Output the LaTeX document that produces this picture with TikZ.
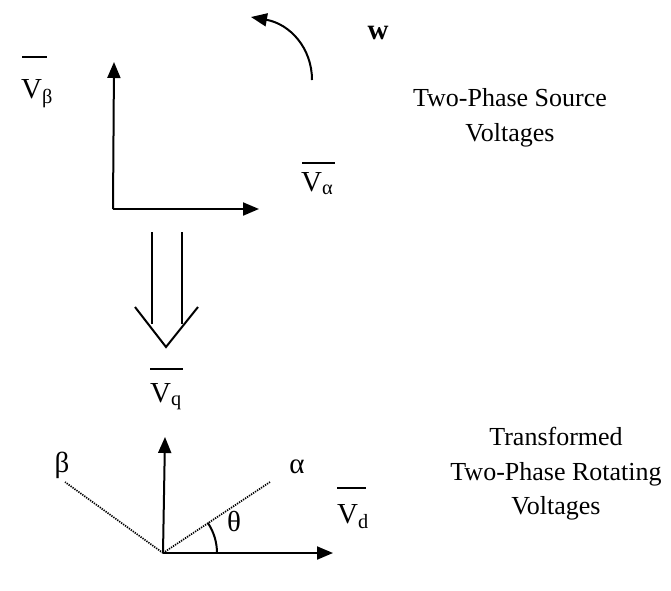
\documentclass[tikz,border=0pt]{standalone}
\usepackage{fontspec}
\setmainfont{Liberation Serif}
\usetikzlibrary{arrows.meta}
\newcommand\Vsub[1]{V\textsubscript{#1}}
\begin{document}
\begin{tikzpicture}[x=1pt,y=-1pt,
  axis/.style={line width=2pt,-{Triangle[length=16pt,width=13pt]}},
  dotline/.style={line width=1.7pt,dash pattern=on 1.3pt off 1.1pt},
  lbl/.style={inner sep=0pt,font=\fontsize{29}{32}\selectfont},
  big/.style={inner sep=0pt,align=center,font=\fontsize{26}{34.5}\selectfont},
  bar/.style={line width=1.6pt}]
\useasboundingbox (0,0) rectangle (671,590);
% top axes
\coordinate (o1) at (113,209);
\coordinate (b1) at (114,62);
\coordinate (a1) at (259,209);
\draw[axis] (o1) -- (b1);
\draw[axis] (o1) -- (a1);
% rotation arrow
\coordinate (rs) at (312,80);
\coordinate (re) at (251,17);
\draw[line width=2pt,-{Triangle[length=16pt,width=13pt]}] (rs) .. controls (312,48) and (290,24) .. (re);
\node[lbl,font=\fontsize{29}{30}\selectfont\bfseries] (w) at (378,33) {w};
% labels top
\node[lbl,anchor=base west] (vb) at (21,98) {\Vsub{β}};
\draw[bar] (22,57) -- (47,57);
\node[lbl,anchor=base west] (va) at (301,191) {\Vsub{α}};
\draw[bar] (302,163) -- (335,163);
\node[big] (t1) at (510,118) {Two-Phase Source\\Voltages};
% double arrow
\coordinate (d1) at (152,232);
\coordinate (d2) at (182,232);
\coordinate (d1e) at (152,324);
\coordinate (d2e) at (182,324);
\coordinate (cl) at (135,307);
\coordinate (cb) at (166,347);
\coordinate (cr) at (198,307);
\draw[line width=1.3pt] (d1) -- (d1e);
\draw[line width=1.3pt] (d2) -- (d2e);
\draw[line width=2pt,line join=miter] (cl) -- (cb) -- (cr);
% Vq
\node[lbl,anchor=base west] (vq) at (150,402) {\Vsub{q}};
\draw[bar] (150,369) -- (183,369);
% bottom axes
\coordinate (o2) at (163,553);
\coordinate (q2) at (165,437);
\coordinate (d2x) at (333,553);
\coordinate (al) at (270,482);
\coordinate (be) at (65,482);
\draw[dotline] (o2) -- (al);
\draw[dotline] (o2) -- (be);
\draw[axis] (o2) -- (q2);
\draw[axis] (o2) -- (d2x);
\draw[line width=2pt] (217,553) arc[start angle=0,end angle=-34,radius=54];
\node[lbl] (th) at (234,521) {θ};
\node[lbl] (alp) at (297,467) {α};
\node[lbl] (bet) at (62,465) {β};
\node[lbl,anchor=base west] (vd) at (337,523) {\Vsub{d}};
\draw[bar] (337,488) -- (366,488);
\node[big] (t2) at (556,474) {Transformed\\Two-Phase Rotating\\Voltages};
\end{tikzpicture}
\end{document}
